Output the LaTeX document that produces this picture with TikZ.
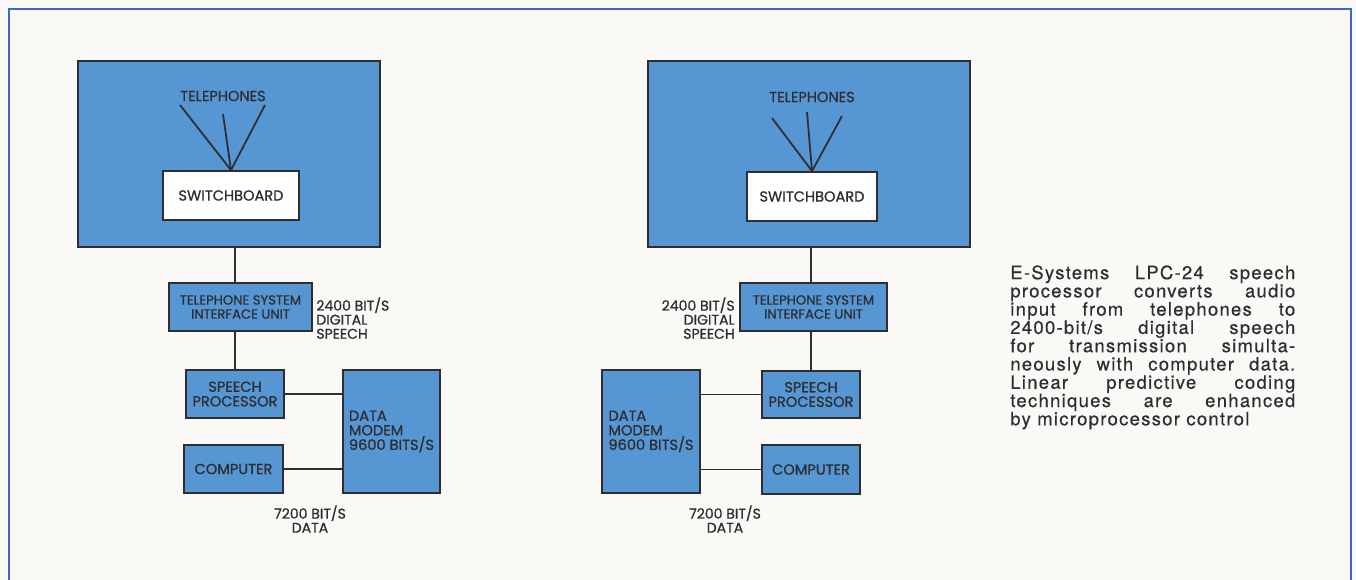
\documentclass[tikz,border=0pt]{standalone}
\usepackage{fontspec}
\setmainfont{TeX Gyre Heros}
\newfontfamily\diagfont[FakeBold=0.8]{Poppins}
\newfontfamily\captfont[LetterSpace=7,FakeBold=0.4]{TeX Gyre Heros}
\usetikzlibrary{positioning}

\definecolor{paper}{RGB}{250,249,246}
\definecolor{boxblue}{RGB}{86,150,210}
\definecolor{frameblue}{RGB}{58,104,196}
\definecolor{linegray}{RGB}{45,45,50}

\begin{document}
\begin{tikzpicture}[
    x=0.02cm, y=-0.02cm,
    every node/.style={font=\diagfont\fontsize{8.3}{8.3}\selectfont, text=linegray},
    panel/.style={draw=linegray, fill=boxblue, line width=1pt},
    block/.style={draw=linegray, fill=boxblue, line width=1pt, inner sep=1pt, align=center},
    label/.style={inner sep=0pt, align=left, font=\diagfont\fontsize{8}{8}\selectfont},
    link/.style={draw=linegray, line width=1pt}
]

% page and frame
\fill[paper] (0,0) rectangle (1356,580);
\useasboundingbox (0,0) rectangle (1356,580);
\draw[frameblue, line width=1.4pt] (9,580) -- (9,9) -- (1351,9) -- (1351,580);

% left arrangement
\node[panel, minimum width=6.04cm, minimum height=3.72cm] (panelL) at (229,154) {};
\node[block, fill=white, minimum width=2.72cm, minimum height=0.98cm] (swL) at (231,195.5) {SWITCHBOARD};
\node (telL) at (223,96) {TELEPHONES};
\coordinate (phL1) at (180,105);
\coordinate (phL2) at (223,114);
\coordinate (phL3) at (265,105);
\node[block, minimum width=2.86cm, minimum height=0.96cm, font=\diagfont\fontsize{7.5}{8}\selectfont] (tsiuL) at (240.5,307) {TELEPHONE SYSTEM\\INTERFACE UNIT};
\node[label, anchor=north west] (rateL) at (316,297) {2400 BIT/S\\DIGITAL\\SPEECH};
\node[block, minimum width=1.96cm, minimum height=0.96cm] (spL) at (235,394) {SPEECH\\PROCESSOR};
\node[block, minimum width=1.94cm, minimum height=2.46cm, align=left] (dmL) at (391.5,431.5) {DATA\\MODEM\\9600 BITS/S};
\node[block, minimum width=1.98cm, minimum height=0.96cm] (compL) at (233.5,469) {COMPUTER};
\node[label, align=center] (dataL) at (310,519) {7200 BIT/S\\DATA};

\foreach \p in {phL1,phL2,phL3}
    \draw[link] (\p) -- (swL.north);
\draw[link] (spL |- panelL.south) -- (spL |- tsiuL.north);
\draw[link] (spL |- tsiuL.south) -- (spL.north);
\draw[link] (spL.east) -- (spL.east -| dmL.west);
\draw[link] (compL.east) -- (compL.east -| dmL.west);

% right arrangement
\node[panel, minimum width=6.44cm, minimum height=3.72cm] (panelR) at (809,154) {};
\node[block, fill=white, minimum width=2.6cm, minimum height=0.98cm] (swR) at (812,196.5) {SWITCHBOARD};
\node (telR) at (812,97) {TELEPHONES};
\coordinate (phR1) at (772,118);
\coordinate (phR2) at (807,112);
\coordinate (phR3) at (842,116);
\node[block, minimum width=2.94cm, minimum height=0.96cm, font=\diagfont\fontsize{7.5}{8}\selectfont] (tsiuR) at (813.5,307) {TELEPHONE SYSTEM\\INTERFACE UNIT};
\node[label, anchor=north east, align=right] (rateR) at (735,297) {2400 BIT/S\\DIGITAL\\SPEECH};
\node[block, minimum width=1.96cm, minimum height=0.94cm] (spR) at (811,394.5) {SPEECH\\PROCESSOR};
\node[block, minimum width=1.96cm, minimum height=2.46cm, align=left] (dmR) at (651,431.5) {DATA\\MODEM\\9600 BITS/S};
\node[block, minimum width=1.96cm, minimum height=0.98cm] (compR) at (811,469.5) {COMPUTER};
\node[label, align=center] (dataR) at (725,519) {7200 BIT/S\\DATA};

\foreach \p in {phR1,phR2,phR3}
    \draw[link] (\p) -- (swR.north);
\draw[link] (spR |- panelR.south) -- (spR |- tsiuR.north);
\draw[link] (spR |- tsiuR.south) -- (spR.north);
\draw[link] (dmR.east |- spR) -- (spR.west);
\draw[link] (dmR.east |- compR) -- (compR.west);

% caption
\node[anchor=north west, inner sep=0pt, text width=5.7cm, align=justify,
      font=\captfont\fontsize{10.5}{10.4}\selectfont] (capt) at (1010,265)
    {E-Systems LPC-24 speech\linebreak processor converts audio\linebreak
     input from telephones to\linebreak 2400-bit/s digital speech\linebreak
     for transmission simulta-\linebreak neously with computer data.\linebreak
     Linear predictive coding\linebreak techniques are enhanced\linebreak
     by microprocessor control};

\end{tikzpicture}
\end{document}
